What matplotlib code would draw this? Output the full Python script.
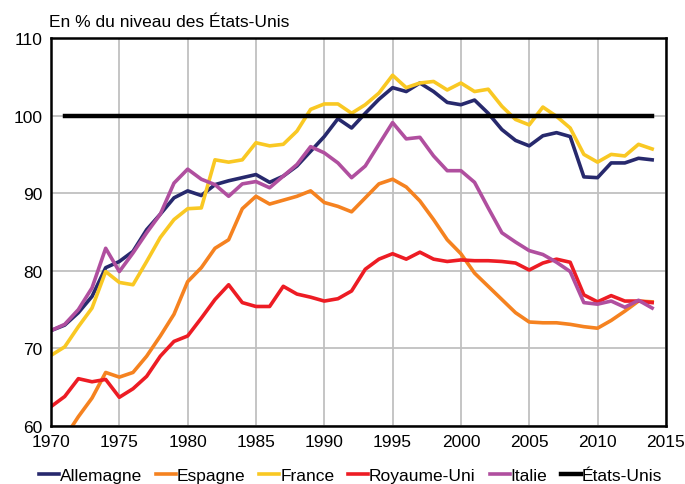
import matplotlib.pyplot as plt
import numpy as np

plt.rcParams["font.family"] = ["Liberation Sans", "DejaVu Sans"]

years = np.arange(1970, 2015)
us_years = np.arange(1971, 2015)

allemagne = [72.3, 73.0, 74.6, 76.7, 80.4, 81.2, 82.5, 85.3, 87.3, 89.4,
             90.3, 89.7, 91.1, 91.6, 92.0, 92.4, 91.4, 92.2, 93.5, 95.4,
             97.3, 99.6, 98.4, 100.3, 102.1, 103.6, 103.1, 104.2, 103.1, 101.7,
             101.4, 102.0, 100.3, 98.2, 96.8, 96.1, 97.4, 97.8, 97.3, 92.1,
             92.0, 93.9, 93.9, 94.5, 94.3]
espagne = [np.nan, 58.5, 61.2, 63.6, 66.9, 66.3, 66.9, 69.0, 71.6, 74.4,
           78.6, 80.4, 82.9, 84.0, 88.0, 89.6, 88.6, 89.1, 89.6, 90.3,
           88.8, 88.3, 87.6, 89.4, 91.2, 91.8, 90.8, 89.0, 86.6, 84.0,
           82.2, 79.7, 78.0, 76.3, 74.6, 73.4, 73.3, 73.3, 73.1, 72.8,
           72.6, 73.6, 74.8, 76.1, 76.0]
france = [69.1, 70.2, 72.8, 75.2, 79.9, 78.5, 78.2, 81.2, 84.3, 86.6,
          88.0, 88.1, 94.3, 94.0, 94.3, 96.5, 96.1, 96.3, 98.0, 100.8,
          101.5, 101.5, 100.3, 101.4, 102.9, 105.2, 103.6, 104.2, 104.4, 103.3,
          104.2, 103.1, 103.4, 101.2, 99.5, 98.8, 101.1, 99.9, 98.4, 95.0,
          94.0, 95.0, 94.8, 96.3, 95.7]
royaume_uni = [62.5, 63.8, 66.1, 65.7, 66.0, 63.7, 64.8, 66.4, 69.0, 70.9,
               71.6, 73.9, 76.3, 78.2, 75.9, 75.4, 75.4, 78.0, 77.0, 76.6,
               76.1, 76.4, 77.4, 80.2, 81.5, 82.2, 81.5, 82.4, 81.5, 81.2,
               81.4, 81.3, 81.3, 81.2, 81.0, 80.1, 81.0, 81.5, 81.1, 76.9,
               76.0, 76.8, 76.1, 76.1, 75.9]
italie = [72.3, 73.1, 75.0, 77.8, 82.9, 79.9, 82.3, 84.9, 87.3, 91.3,
          93.1, 91.8, 91.1, 89.6, 91.2, 91.5, 90.7, 92.2, 93.7, 96.0,
          95.2, 93.9, 92.0, 93.5, 96.3, 99.1, 97.0, 97.2, 94.8, 92.9,
          92.9, 91.4, 88.1, 84.9, 83.7, 82.6, 82.1, 81.1, 79.9, 75.9,
          75.7, 76.1, 75.3, 76.2, 75.2]
etats_unis = [100] * len(us_years)

fig = plt.figure(figsize=(6.85, 4.85), dpi=100)
ax = fig.add_axes([0.0745, 0.1196, 0.8975, 0.8])

ax.plot(years, allemagne, color="#27296d", lw=2.6, label="Allemagne")
ax.plot(years, espagne, color="#f58220", lw=2.6, label="Espagne")
ax.plot(years, france, color="#f9c823", lw=2.6, label="France")
ax.plot(years, royaume_uni, color="#ed1c24", lw=2.6, label="Royaume-Uni")
ax.plot(years, italie, color="#b04f9f", lw=2.6, label="Italie")
ax.plot(us_years, etats_unis, color="black", lw=3.2, label="États-Unis")

ax.set_xlim(1970, 2015)
ax.set_ylim(60, 110)
ax.set_xticks(range(1970, 2016, 5))
ax.set_yticks(range(60, 111, 10))
ax.grid(True, color="#c0c0c0", lw=1.3)
ax.set_axisbelow(True)
for s in ax.spines.values():
    s.set_color("black")
    s.set_linewidth(1.8)
ax.tick_params(labelsize=12.5, length=0, pad=6)

fig.text(0.0715, 0.9526, "En % du niveau des États-Unis", fontsize=12.5, va="center")

fig.legend(*ax.get_legend_handles_labels(), loc="center", bbox_to_anchor=(0.512, 0.017),
           ncol=6, frameon=False, fontsize=12.5, handlelength=1.15, handletextpad=0.05,
           columnspacing=0.8, borderpad=0.1)

fig.savefig("out.png", dpi=100)
